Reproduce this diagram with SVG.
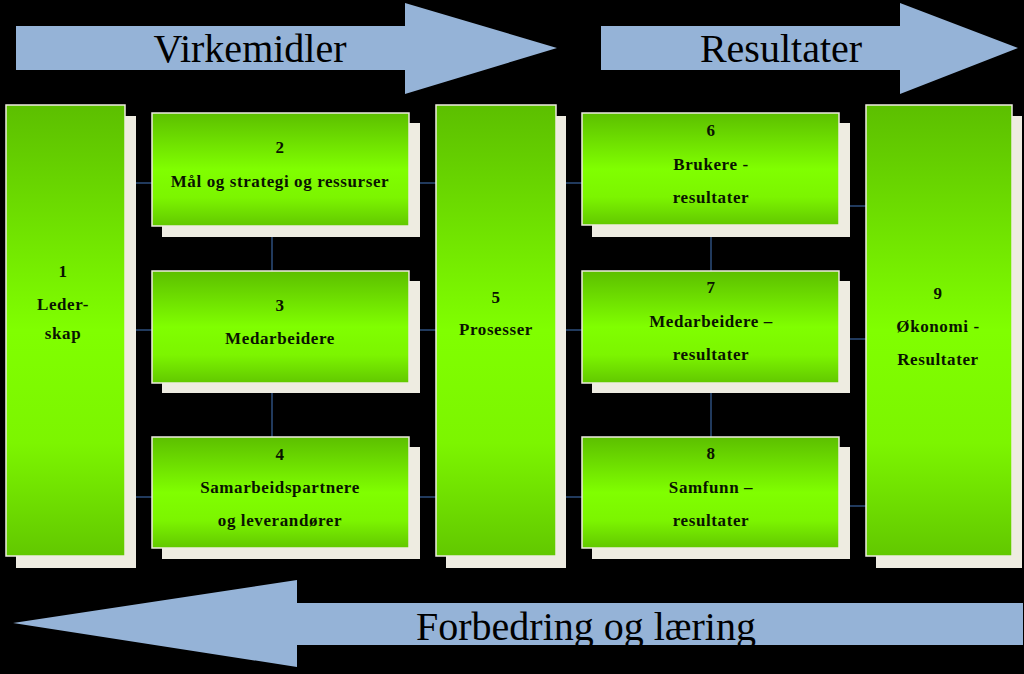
<svg xmlns="http://www.w3.org/2000/svg" width="1024" height="674" viewBox="0 0 1024 674">
<defs>
<linearGradient id="g" x1="0" y1="0" x2="0" y2="1">
<stop offset="0" stop-color="#5cbf00"/>
<stop offset="0.5" stop-color="#80ff00"/>
<stop offset="0.75" stop-color="#7cf500"/>
<stop offset="1" stop-color="#62c800"/>
</linearGradient>
</defs>
<style>
.sh{fill:#eeece1}
.bx{fill:url(#g);stroke:#eeece1;stroke-width:1.5}
.t{font-family:"Liberation Serif",serif;font-size:17px;font-weight:bold;fill:#0a1400;text-anchor:middle;letter-spacing:0.6px}
.big{font-family:"Liberation Serif",serif;font-size:40px;fill:#000;text-anchor:middle}
.ar{fill:#95b3d7}
.c{stroke:#2c4d7c;stroke-width:1.5;fill:none}
</style>
<rect width="1024" height="674" fill="#000"/>
<g id="arrow-virkemidler">
<polygon class="ar" points="16,26 405,26 405,3 557,48 405,94 405,70 16,70"/>
<text class="big" x="250" y="62">Virkemidler</text>
</g>
<g id="arrow-resultater">
<polygon class="ar" points="601,26 900,26 900,3 1018,48 900,94 900,70 601,70"/>
<text class="big" x="781" y="62">Resultater</text>
</g>
<g id="arrow-forbedring">
<polygon class="ar" points="1023,603 297,603 297,580 13,623 297,667 297,645 1023,645"/>
<text class="big" x="586" y="640" font-size="42">Forbedring og læring</text>
</g>
<g id="connectors">
<path class="c" d="M133,183H152M133,330H152M133,497H152"/>
<path class="c" d="M272,237V271M272,393V437"/>
<path class="c" d="M418,183H436M418,330H436M418,497H436"/>
<path class="c" d="M566,183H582M566,330H582M566,497H582"/>
<path class="c" d="M711,237V271M711,393V437"/>
<path class="c" d="M848,206H866M848,339H866M848,506H866"/>
</g>
<g id="n1">
<rect class="sh" x="16" y="116" width="120" height="452"/>
<rect class="bx" x="6" y="105" width="119" height="451"/>
<text class="t" x="63" y="277">1</text>
<text class="t" x="63" y="310">Leder-</text>
<text class="t" x="63" y="339">skap</text>
</g>
<g id="n2">
<rect class="sh" x="162" y="123" width="258" height="114"/>
<rect class="bx" x="152" y="113" width="257" height="113"/>
<text class="t" x="280" y="153">2</text>
<text class="t" x="280" y="187">Mål og strategi og ressurser</text>
</g>
<g id="n3">
<rect class="sh" x="162" y="281" width="258" height="112"/>
<rect class="bx" x="152" y="271" width="257" height="112"/>
<text class="t" x="280" y="311">3</text>
<text class="t" x="280" y="344">Medarbeidere</text>
</g>
<g id="n4">
<rect class="sh" x="162" y="447" width="258" height="112"/>
<rect class="bx" x="152" y="437" width="257" height="111"/>
<text class="t" x="280" y="460">4</text>
<text class="t" x="280" y="493">Samarbeidspartnere</text>
<text class="t" x="280" y="526">og leverandører</text>
</g>
<g id="n5">
<rect class="sh" x="446" y="116" width="120" height="452"/>
<rect class="bx" x="436" y="105" width="120" height="451"/>
<text class="t" x="496" y="303">5</text>
<text class="t" x="496" y="335">Prosesser</text>
</g>
<g id="n6">
<rect class="sh" x="592" y="123" width="258" height="114"/>
<rect class="bx" x="582" y="113" width="257" height="112"/>
<text class="t" x="711" y="136">6</text>
<text class="t" x="711" y="170">Brukere -</text>
<text class="t" x="711" y="203">resultater</text>
</g>
<g id="n7">
<rect class="sh" x="592" y="281" width="258" height="112"/>
<rect class="bx" x="582" y="271" width="257" height="112"/>
<text class="t" x="711" y="293">7</text>
<text class="t" x="711" y="327">Medarbeidere –</text>
<text class="t" x="711" y="360">resultater</text>
</g>
<g id="n8">
<rect class="sh" x="592" y="447" width="258" height="112"/>
<rect class="bx" x="582" y="437" width="257" height="111"/>
<text class="t" x="711" y="459">8</text>
<text class="t" x="711" y="493">Samfunn –</text>
<text class="t" x="711" y="526">resultater</text>
</g>
<g id="n9">
<rect class="sh" x="876" y="116" width="146" height="452"/>
<rect class="bx" x="866" y="105" width="146" height="451"/>
<text class="t" x="938" y="299">9</text>
<text class="t" x="938" y="332">Økonomi -</text>
<text class="t" x="938" y="365">Resultater</text>
</g>
</svg>
